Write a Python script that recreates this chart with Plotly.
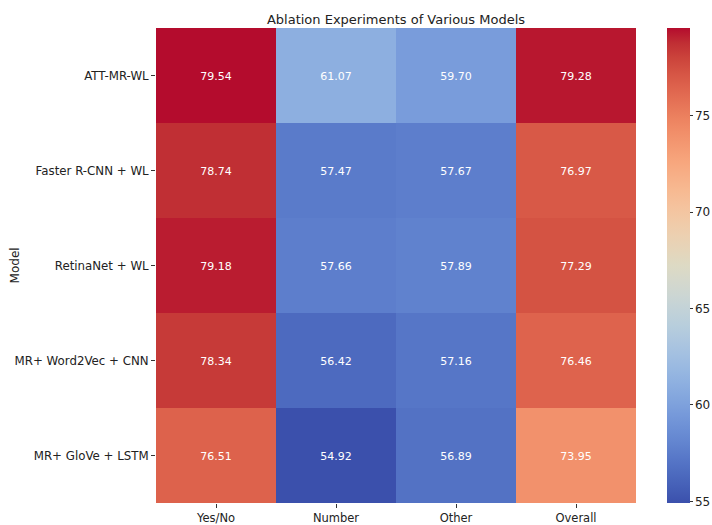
import plotly.graph_objects as go

# Scores per model on each question type
models = ["ATT-MR-WL", "Faster R-CNN + WL", "RetinaNet + WL",
          "MR+ Word2Vec + CNN", "MR+ GloVe + LSTM"]
metrics = ["Yes/No", "Number", "Other", "Overall"]
yes_no = [79.54, 78.74, 79.18, 78.34, 76.51]
number = [61.07, 57.47, 57.66, 56.42, 54.92]
other = [59.70, 57.67, 57.89, 57.16, 56.89]
overall = [79.28, 76.97, 77.29, 76.46, 73.95]
colorbar_ticks = [55, 60, 65, 70, 75]

z = [list(row) for row in zip(yes_no, number, other, overall)]

# "coolwarm" diverging colormap, slightly muted in the blue channel
coolwarm_rgb = [
    (59, 76, 192), (68, 90, 204), (77, 104, 215), (87, 117, 225),
    (98, 130, 234), (108, 142, 241), (119, 154, 247), (130, 165, 251),
    (141, 176, 254), (152, 185, 255), (163, 194, 255), (174, 201, 253),
    (184, 208, 249), (194, 213, 244), (204, 217, 238), (213, 219, 230),
    (221, 221, 221), (229, 216, 209), (236, 211, 197), (241, 204, 185),
    (245, 196, 173), (247, 187, 160), (247, 177, 148), (247, 166, 135),
    (244, 154, 123), (241, 141, 111), (236, 127, 99), (229, 112, 88),
    (222, 96, 77), (213, 80, 66), (203, 62, 56), (192, 40, 47),
    (180, 4, 38),
]


def mute(c):
    r, g, b = c
    g = 0.95 * g + 8
    b = 0.83 * b + 13
    return "rgb(%d,%d,%d)" % (round(r), round(g), round(b))


n = len(coolwarm_rgb) - 1
colorscale = [[i / n, mute(c)] for i, c in enumerate(coolwarm_rgb)]

all_vals = yes_no + number + other + overall

fig = go.Figure(go.Heatmap(
    z=z, x=metrics, y=models,
    colorscale=colorscale,
    zmin=min(all_vals), zmax=max(all_vals),
    texttemplate="%{z:.2f}",
    textfont=dict(color="white", size=11, family="DejaVu Sans"),
    xgap=0, ygap=0,
    colorbar=dict(
        x=1.064, xanchor="left", xref="paper", xpad=0,
        y=0.5, yanchor="middle", len=1.0, lenmode="fraction", ypad=0,
        thickness=23, outlinewidth=0,
        tickvals=colorbar_ticks, ticks="outside", ticklen=3,
        tickcolor="#333", tickfont=dict(size=12, color="#222"),
    ),
))

fig.update_layout(
    width=712, height=525,
    margin=dict(l=156, r=76, t=28, b=22, autoexpand=False),
    paper_bgcolor="white", plot_bgcolor="white",
    font=dict(family="DejaVu Sans", size=11, color="#222"),
    title=dict(text="Ablation Experiments of Various Models",
               x=0.5, xref="paper", xanchor="center",
               y=1, yref="paper", yanchor="bottom", pad=dict(b=4),
               font=dict(size=13, color="#222")),
    annotations=[dict(text="Model", textangle=-90,
                      xref="paper", yref="paper", x=-0.294, y=0.5,
                      xanchor="center", yanchor="middle", showarrow=False,
                      font=dict(size=12, color="#222"))],
)
fig.update_xaxes(ticks="outside", ticklen=4, tickcolor="#333",
                 tickfont=dict(size=11.5),
                 showgrid=False, zeroline=False, showline=False)
fig.update_yaxes(autorange="reversed", ticks="outside", ticklen=4,
                 tickcolor="#333", tickfont=dict(size=11.8),
                 showgrid=False, zeroline=False, showline=False)

fig.write_html("out.html")
